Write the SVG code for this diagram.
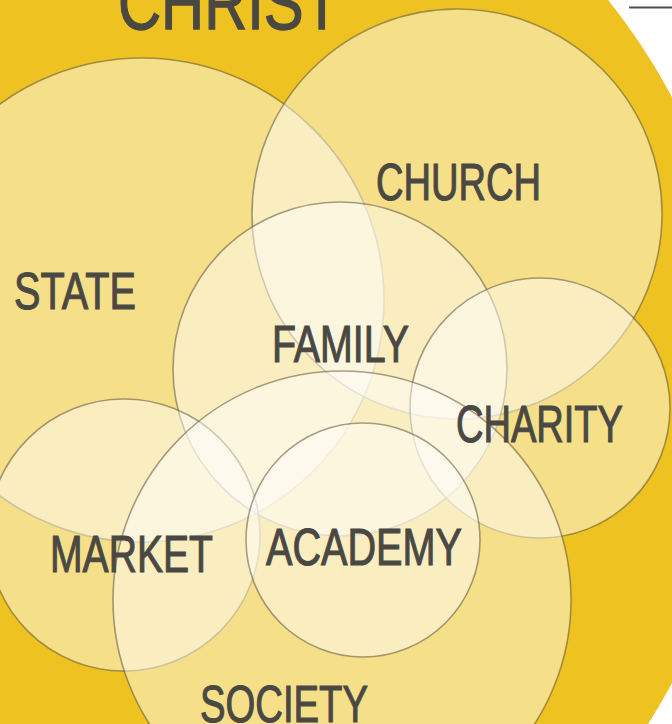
<svg xmlns="http://www.w3.org/2000/svg" width="672" height="724" viewBox="0 0 672 724">
  <style>
    .sphere { fill: #ffffff; fill-opacity: 0.47; stroke: #5e5338; stroke-opacity: 0.55; stroke-width: 1.6; }
    .label { font-family: "Liberation Sans", Arial, sans-serif; font-size: 52px; fill: #4a4843; stroke: #4a4843; stroke-width: 1.1; }
    .title { font-family: "Liberation Sans", Arial, sans-serif; font-size: 76px; fill: #4a4843; stroke: #4a4843; stroke-width: 1.4; }
  </style>
  <rect x="0" y="0" width="672" height="724" fill="#ffffff"/>
  <g id="christ">
    <circle cx="121" cy="390" r="624" fill="#EEC220"/>
  </g>
  <g id="state"><circle class="sphere" cx="142" cy="300" r="242"/></g>
  <g id="church"><circle class="sphere" cx="457" cy="214" r="205"/></g>
  <g id="family"><circle class="sphere" cx="340" cy="369" r="167"/></g>
  <g id="charity"><circle class="sphere" cx="540" cy="408" r="130"/></g>
  <g id="market"><circle class="sphere" cx="124" cy="535" r="136"/></g>
  <g id="society"><circle class="sphere" cx="342" cy="600" r="229"/></g>
  <g id="academy"><circle class="sphere" cx="363" cy="540" r="117"/></g>
  <g id="connectors">
    <line x1="629" y1="7.5" x2="672" y2="7.5" stroke="#4f4f4f" stroke-width="2.2"/>
  </g>
  <g id="labels">
    <text id="christ-label" class="title" x="118" y="29" textLength="222" lengthAdjust="spacingAndGlyphs">CHRIST</text>
    <text id="state-label" class="label" x="14" y="309" textLength="122" lengthAdjust="spacingAndGlyphs">STATE</text>
    <text id="church-label" class="label" x="376" y="200" textLength="165" lengthAdjust="spacingAndGlyphs">CHURCH</text>
    <text id="family-label" class="label" x="272" y="362" textLength="137" lengthAdjust="spacingAndGlyphs">FAMILY</text>
    <text id="charity-label" class="label" x="456" y="442" textLength="167" lengthAdjust="spacingAndGlyphs">CHARITY</text>
    <text id="market-label" class="label" x="50" y="572" textLength="163" lengthAdjust="spacingAndGlyphs">MARKET</text>
    <text id="academy-label" class="label" x="266" y="565" textLength="196" lengthAdjust="spacingAndGlyphs">ACADEMY</text>
    <text id="society-label" class="label" x="200" y="722" textLength="168" lengthAdjust="spacingAndGlyphs">SOCIETY</text>
  </g>
</svg>
